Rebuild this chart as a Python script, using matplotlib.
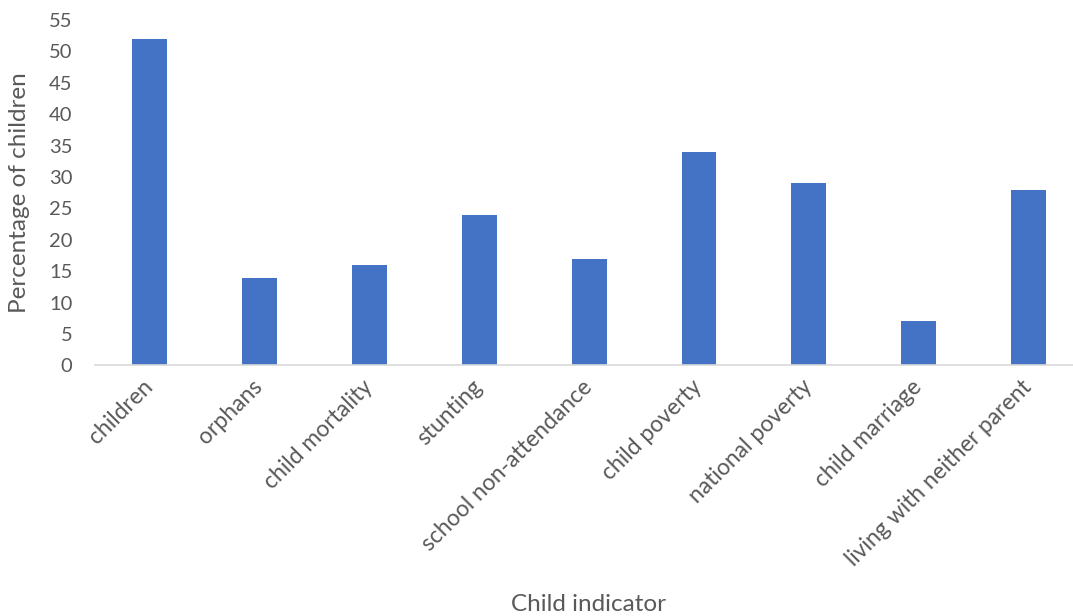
import matplotlib.pyplot as plt
import numpy as np

plt.rcParams['font.family'] = ['Lato', 'DejaVu Sans']

# data
indicators = ['children', 'orphans', 'child mortality', 'stunting',
              'school non-attendance', 'child poverty', 'national poverty',
              'child marriage', 'living with neither parent']
percentages = [52, 14, 16, 24, 17, 34, 29, 7, 28]
y_ticks = list(range(0, 56, 5))

bar_color = '#4472C4'
text_color = '#595959'

fig = plt.figure(figsize=(10.73, 6.16), dpi=100)
# the plot area runs a little past the right edge, as in the reference
ax = fig.add_axes([0.0881, 0.4067, 0.9218, 0.5609])

x = np.arange(len(indicators))
ax.bar(x, percentages, width=0.318, color=bar_color)

ax.set_xlim(-0.5, len(indicators) - 0.5)
ax.set_ylim(0, 55)
ax.set_yticks(y_ticks)
ax.set_xticks(x)
ax.set_xticklabels(indicators, rotation=45, ha='right', va='center',
                   rotation_mode='anchor', fontsize=16.5)

for side in ['top', 'right', 'left']:
    ax.spines[side].set_visible(False)
ax.spines['bottom'].set_color('#D9D9D9')
ax.spines['bottom'].set_linewidth(1.2)

ax.tick_params(axis='both', length=0, labelcolor=text_color)
ax.tick_params(axis='y', labelsize=14.5, pad=16)
ax.tick_params(axis='x', pad=13)

ax.set_ylabel('Percentage of children', fontsize=17.5, color=text_color)
ax.yaxis.set_label_coords(-0.0655, 0.5)
ax.set_xlabel('Child indicator', fontsize=17.5, color=text_color)
ax.xaxis.set_label_coords(0.499, -0.66)

fig.savefig('out.png', dpi=100)
